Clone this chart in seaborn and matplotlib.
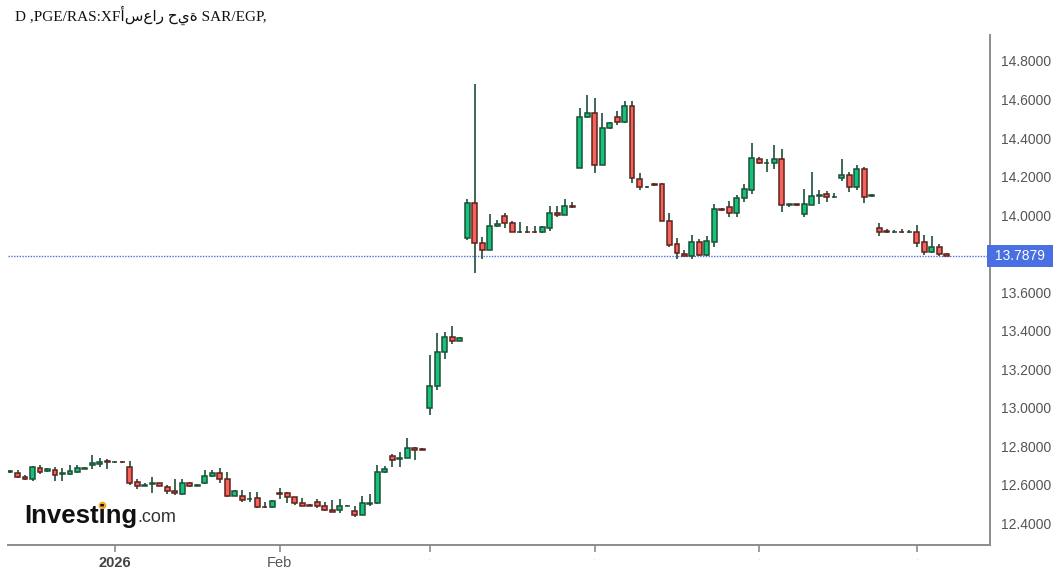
import numpy as np
import pandas as pd
import matplotlib
matplotlib.use("Agg")
import matplotlib.pyplot as plt
import matplotlib.transforms as mtransforms
import seaborn as sns

sns.set_theme(style="white")
plt.rcParams["font.family"] = ["Liberation Sans", "DejaVu Sans"]

# ── data: daily SAR/EGP candles ───────────────────────────────────────────────
START_DATE = "2025-12-12"
OPEN = [12.665, 12.658, 12.640, 12.630, 12.687, 12.670, 12.675, 12.655, 12.656, 12.666,
        12.683, 12.704, 12.709, 12.720, 12.716, 12.718, 12.689, 12.611, 12.594, 12.604,
        12.606, 12.585, 12.566, 12.550, 12.606, 12.595, 12.610, 12.645, 12.658, 12.630,
        12.542, 12.542, 12.523, 12.528, 12.485, 12.482, 12.556, 12.555, 12.533, 12.502,
        12.492, 12.510, 12.488, 12.470, 12.467, 12.489, 12.462, 12.440, 12.500, 12.502,
        12.664, 12.746, 12.735, 12.737, 12.788, 12.785, 12.996, 13.112, 13.287, 13.366,
        13.347, 13.882, 14.061, 13.853, 13.818, 13.944, 13.995, 13.957, 13.910, 13.913,
        13.913, 13.910, 13.934, 14.010, 14.000, 14.048, 14.246, 14.508, 14.528, 14.260,
        14.450, 14.508, 14.482, 14.566, 14.189, 14.143, 14.160, 14.160, 13.968, 13.848,
        13.800, 13.787, 13.858, 13.792, 13.862, 14.030, 14.044, 14.009, 14.087, 14.130,
        14.293, 14.268, 14.269, 14.289, 14.051, 14.055, 14.005, 14.052, 14.100, 14.107,
        14.092, 14.194, 14.210, 14.147, 14.237, 14.097, 13.930, 13.917, 13.910, 13.913,
        13.910, 13.913, 13.858, 13.810, 13.836, 13.800]
HIGH = [12.675, 12.675, 12.648, 12.697, 12.700, 12.685, 12.690, 12.686, 12.700, 12.700,
        12.690, 12.753, 12.740, 12.735, 12.720, 12.720, 12.724, 12.630, 12.610, 12.637,
        12.610, 12.600, 12.630, 12.630, 12.612, 12.605, 12.675, 12.675, 12.685, 12.667,
        12.572, 12.570, 12.563, 12.563, 12.510, 12.520, 12.580, 12.563, 12.535, 12.530,
        12.498, 12.525, 12.510, 12.520, 12.525, 12.493, 12.490, 12.540, 12.550, 12.700,
        12.695, 12.760, 12.770, 12.843, 12.795, 12.790, 13.273, 13.387, 13.394, 13.424,
        13.368, 14.081, 14.680, 13.887, 14.005, 13.975, 14.010, 13.970, 13.965, 13.945,
        13.945, 13.945, 14.048, 14.048, 14.085, 14.065, 14.554, 14.623, 14.606, 14.528,
        14.485, 14.540, 14.590, 14.594, 14.220, 14.152, 14.165, 14.165, 14.010, 13.880,
        13.820, 13.895, 13.875, 13.890, 14.055, 14.035, 14.075, 14.105, 14.160, 14.376,
        14.300, 14.290, 14.364, 14.343, 14.058, 14.058, 14.135, 14.222, 14.130, 14.125,
        14.115, 14.289, 14.225, 14.260, 14.250, 14.110, 13.960, 13.925, 13.920, 13.925,
        13.920, 13.950, 13.895, 13.890, 13.850, 13.803]
LOW = [12.660, 12.633, 12.623, 12.620, 12.655, 12.665, 12.620, 12.620, 12.648, 12.660,
       12.680, 12.679, 12.692, 12.680, 12.714, 12.714, 12.597, 12.575, 12.590, 12.557,
       12.590, 12.550, 12.545, 12.545, 12.585, 12.592, 12.605, 12.637, 12.610, 12.537,
       12.538, 12.510, 12.510, 12.480, 12.480, 12.480, 12.525, 12.505, 12.495, 12.486,
       12.486, 12.478, 12.462, 12.458, 12.450, 12.487, 12.434, 12.440, 12.490, 12.500,
       12.662, 12.692, 12.692, 12.737, 12.725, 12.780, 12.961, 13.090, 13.252, 13.330,
       13.345, 13.870, 13.700, 13.771, 13.818, 13.940, 13.935, 13.910, 13.908, 13.908,
       13.908, 13.905, 13.918, 13.990, 13.998, 14.038, 14.246, 14.505, 14.220, 14.258,
       14.445, 14.470, 14.478, 14.164, 14.130, 14.138, 14.152, 13.968, 13.835, 13.770,
       13.785, 13.770, 13.785, 13.785, 13.835, 14.020, 13.990, 13.990, 14.065, 14.110,
       14.265, 14.225, 14.237, 14.017, 14.040, 14.048, 13.990, 14.050, 14.058, 14.065,
       14.090, 14.178, 14.120, 14.130, 14.060, 14.095, 13.890, 13.908, 13.908, 13.908,
       13.908, 13.835, 13.790, 13.805, 13.785, 13.786]
CLOSE = [12.670, 12.640, 12.630, 12.690, 12.667, 12.680, 12.652, 12.662, 12.671, 12.684,
         12.687, 12.710, 12.716, 12.716, 12.718, 12.716, 12.609, 12.592, 12.600, 12.607,
         12.592, 12.567, 12.555, 12.606, 12.590, 12.599, 12.646, 12.658, 12.630, 12.540,
         12.568, 12.520, 12.527, 12.482, 12.482, 12.516, 12.552, 12.534, 12.503, 12.488,
         12.489, 12.490, 12.467, 12.460, 12.488, 12.491, 12.440, 12.502, 12.504, 12.667,
         12.681, 12.728, 12.739, 12.788, 12.782, 12.782, 13.112, 13.287, 13.366, 13.346,
         13.360, 14.061, 13.853, 13.818, 13.944, 13.953, 13.957, 13.910, 13.913, 13.910,
         13.910, 13.939, 14.009, 14.000, 14.047, 14.040, 14.510, 14.528, 14.260, 14.450,
         14.476, 14.482, 14.566, 14.190, 14.145, 14.147, 14.155, 13.968, 13.844, 13.801,
         13.788, 13.858, 13.792, 13.865, 14.030, 14.026, 14.010, 14.087, 14.134, 14.295,
         14.270, 14.272, 14.289, 14.052, 14.055, 14.051, 14.055, 14.100, 14.106, 14.092,
         14.095, 14.210, 14.147, 14.237, 14.095, 14.102, 13.913, 13.911, 13.913, 13.910,
         13.913, 13.857, 13.810, 13.836, 13.800, 13.7879]
LAST_PRICE = 13.7879
# 13.8 is hidden behind the last-price box in the original
Y_TICKS = [12.4, 12.6, 12.8, 13.0, 13.2, 13.4, 13.6, 14.0, 14.2, 14.4, 14.6, 14.8]
MONTH_LABELS = {1: "2026", 2: "Feb", 3: ".", 4: ".", 5: ".", 6: "."}
TITLE = "D ,PGE/RAS:XF" + "أسعار حية" + " SAR/EGP,"

UP_FILL, UP_EDGE = "#13c37b", "#1c4f35"
DN_FILL, DN_EDGE = "#f6635a", "#5e211c"
WICK = "#2f5d47"
LINE_BLUE = "#4a6fe3"

df = pd.DataFrame({"open": OPEN, "high": HIGH, "low": LOW, "close": CLOSE})
df["date"] = pd.bdate_range(START_DATE, periods=len(df))
df["x"] = np.arange(len(df))
df["up"] = df["close"] >= df["open"]

# ── figure ────────────────────────────────────────────────────────────────────
W, H = 1059, 572
fig = plt.figure(figsize=(W / 100, H / 100), dpi=100)
ax = fig.add_axes([8 / W, 1 - 545 / H, (990 - 8) / W, (545 - 35) / H])

ax.vlines(df["x"], df["low"], df["high"], color=WICK, lw=1.3, zorder=2)
for up, grp in df.groupby("up"):
    ax.bar(grp["x"], grp["close"] - grp["open"], bottom=grp["open"], width=0.66,
           color=UP_FILL if up else DN_FILL, edgecolor=UP_EDGE if up else DN_EDGE,
           linewidth=1.1, zorder=3)

ax.axhline(LAST_PRICE, color=LINE_BLUE, lw=1.0, ls=(0, (1, 1)), zorder=1)

ax.set_xlim(-0.27, 130.77)
ax.set_ylim(12.286, 14.935)

# right y-axis
ax.yaxis.tick_right()
ax.set_yticks(Y_TICKS)
ax.set_yticklabels([f"{v:.4f}" for v in Y_TICKS])
ax.tick_params(axis="y", direction="out", length=5, width=1, color="#8c8c8c",
               labelcolor="#555555", labelsize=10, pad=3, right=True, left=False)

# month ticks on the bottom axis
first = df.groupby([df["date"].dt.year, df["date"].dt.month])["x"].min()
tick_pos, tick_lab = [], []
for (yr, mo), pos in first.items():
    if yr == 2026 and mo in MONTH_LABELS:
        tick_pos.append(pos)
        tick_lab.append(MONTH_LABELS[mo])
ax.set_xticks(tick_pos)
ax.set_xticklabels(tick_lab)
ax.tick_params(axis="x", direction="out", length=5, width=1.2, color="#8c8c8c",
               labelcolor="#555555", labelsize=10.5, pad=3, bottom=True)
for lab in ax.get_xticklabels():
    if lab.get_text() == "2026":
        lab.set_fontweight("bold")
        lab.set_color("#444444")
    elif lab.get_text() == ".":
        lab.set_fontsize(4)
        lab.set_color("#aaaaaa")

sns.despine(ax=ax, left=True, top=True, right=False, bottom=False)
for side in ("right", "bottom"):
    ax.spines[side].set_color("#8c8c8c")
    ax.spines[side].set_linewidth(1.4)
ax.grid(False)

# last price label on the axis
trans = mtransforms.blended_transform_factory(ax.transAxes, ax.transData)
ax.text(1.0015, LAST_PRICE, f" {LAST_PRICE:.4f} ", transform=trans, ha="left", va="center",
        color="white", fontsize=10,
        bbox=dict(boxstyle="square,pad=0.3", fc=LINE_BLUE, ec="none"))

# title and watermark
fig.text(15 / W, 1 - 15 / H, TITLE, ha="left", va="center", fontsize=11,
         color="#111111", family=["Liberation Serif", "DejaVu Sans"])
fig.text(24 / W, 1 - 516 / H, "Investing", ha="left", va="center", fontsize=18.5,
         fontweight="bold", color="#111111")
fig.text(137 / W, 1 - 518 / H, ".com", ha="left", va="center", fontsize=13,
         color="#333333")
fig.add_artist(plt.Line2D([101.5 / W], [1 - 505 / H], marker="o", markersize=4.5,
                          color="#f5a623", transform=fig.transFigure))

fig.savefig("out.png", dpi=100)
